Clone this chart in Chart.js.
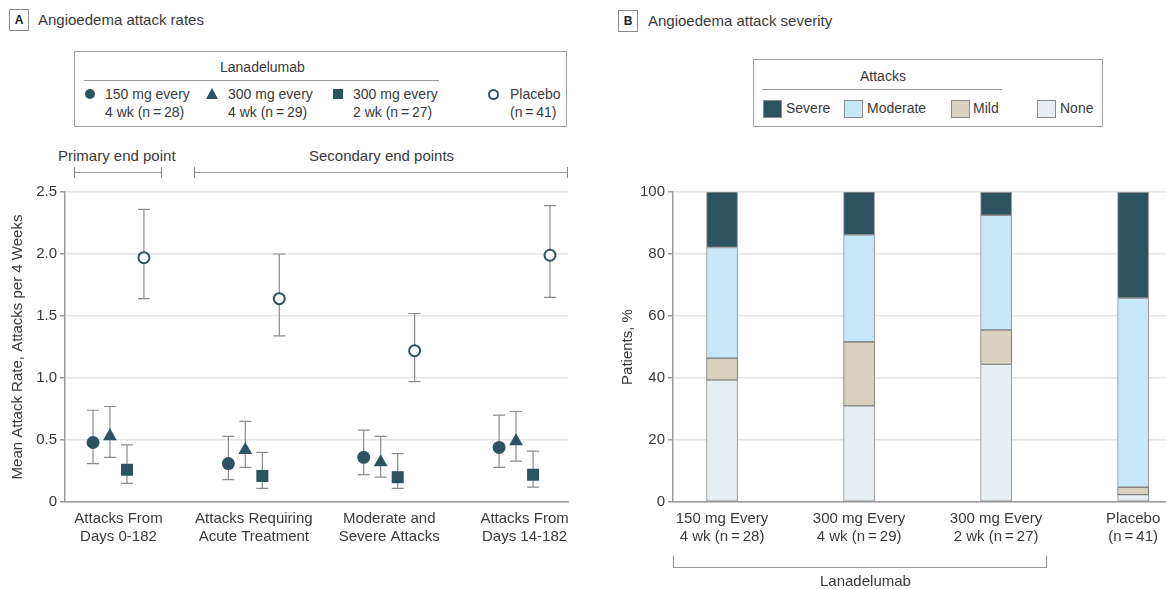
<!DOCTYPE html>
<html>
<head>
<meta charset="utf-8">
<script src="https://cdn.jsdelivr.net/npm/chart.js@4/dist/chart.umd.min.js"></script>
<style>
	body { margin: 0; width: 1166px; height: 589px; background: #fff; position: relative; overflow: hidden;
		font-family: 'Liberation Sans', Arial, sans-serif; color: #3a3a3a; }
	.abs { position: absolute; }
	.panel-box { position: absolute; width: 18px; height: 20px; border: 1px solid #8a8a8a; font-size: 12px; font-weight: bold;
		text-align: center; line-height: 20px; color: #222; }
	.panel-title { position: absolute; font-size: 15px; line-height: 18px; white-space: nowrap; }
	.legend { position: absolute; border: 1px solid #a0a0a0; box-sizing: border-box; }
	.txt { position: absolute; font-size: 14px; line-height: 18px; white-space: nowrap; }
	.hline { position: absolute; height: 0; border-top: 1px solid #9a9a9a; }
	.vline { position: absolute; width: 0; border-left: 1px solid #8a8a8a; }
	.swatch { position: absolute; width: 17px; height: 16px; border: 1px solid #8a8a8a; }
	canvas { position: absolute; }
</style>
</head>
<body>

<div class="panel-box" style="left:9px; top:9px;">A</div>
<div class="panel-title" style="left:38px; top:11px;">Angioedema attack rates</div>
<div class="panel-box" style="left:618px; top:10px;">B</div>
<div class="panel-title" style="left:648px; top:12px;">Angioedema attack severity</div>

<!-- legend A -->
<div class="legend" style="left:74px; top:51px; width:493px; height:76px;"></div>
<div class="txt" style="left:220px; top:58px;">Lanadelumab</div>
<div class="hline" style="left:84px; top:80px; width:355px;"></div>
<div class="abs" style="left:85px; top:89px; width:10px; height:10px; border-radius:50%; background:#2d5360;"></div>
<div class="txt" style="left:105px; top:85px;">150 mg every<br>4 wk (n&#8201;=&#8201;28)</div>
<div class="abs" style="left:206px; top:88px; width:0; height:0; border-left:6px solid transparent; border-right:6px solid transparent; border-bottom:11px solid #2d5360;"></div>
<div class="txt" style="left:228px; top:85px;">300 mg every<br>4 wk (n&#8201;=&#8201;29)</div>
<div class="abs" style="left:333px; top:89px; width:10px; height:10px; background:#2d5360;"></div>
<div class="txt" style="left:353px; top:85px;">300 mg every<br>2 wk (n&#8201;=&#8201;27)</div>
<div class="abs" style="left:488px; top:89px; width:7px; height:7px; border-radius:50%; border:2px solid #2d5360; background:#fff;"></div>
<div class="txt" style="left:510px; top:85px;">Placebo<br>(n&#8201;=&#8201;41)</div>

<!-- end point brackets -->
<div class="txt" style="left:58px; top:147px; font-size:15px;">Primary end point</div>
<div class="txt" style="left:309px; top:147px; font-size:15px;">Secondary end points</div>
<div class="hline" style="left:74px; top:172px; width:88px;"></div>
<div class="vline" style="left:74px; top:167px; height:11px;"></div>
<div class="vline" style="left:161px; top:167px; height:11px;"></div>
<div class="hline" style="left:194px; top:172px; width:374px;"></div>
<div class="vline" style="left:194px; top:167px; height:11px;"></div>
<div class="vline" style="left:567px; top:167px; height:11px;"></div>

<!-- legend B -->
<div class="legend" style="left:753px; top:59px; width:350px; height:68px;"></div>
<div class="txt" style="left:860px; top:67px;">Attacks</div>
<div class="hline" style="left:762px; top:89px; width:240px;"></div>
<div class="swatch" style="left:763px; top:100px; background:#2d5360;"></div>
<div class="txt" style="left:786px; top:99px;">Severe</div>
<div class="swatch" style="left:844px; top:100px; background:#c7e8f9;"></div>
<div class="txt" style="left:867px; top:99px;">Moderate</div>
<div class="swatch" style="left:951px; top:100px; background:#d9d2c3;"></div>
<div class="txt" style="left:973px; top:99px;">Mild</div>
<div class="swatch" style="left:1037px; top:100px; background:#e7eff3;"></div>
<div class="txt" style="left:1060px; top:99px;">None</div>

<canvas id="rates" width="580" height="380" style="left:0; top:180px;"></canvas>
<canvas id="severity" width="566" height="380" style="left:600px; top:180px;"></canvas>

<!-- Lanadelumab bracket under panel B -->
<div class="hline" style="left:673px; top:567px; width:374px;"></div>
<div class="vline" style="left:673px; top:556px; height:11px;"></div>
<div class="vline" style="left:1046px; top:556px; height:11px;"></div>
<div class="txt" style="left:820px; top:572px; font-size:15px;">Lanadelumab</div>

<script>
// panel A data: mean attack rate per 4 weeks with 95% CI
var endPoints = [['Attacks From', 'Days 0-182'], ['Attacks Requiring', 'Acute Treatment'], ['Moderate and', 'Severe Attacks'], ['Attacks From', 'Days 14-182']];
var mean150q4 = [0.48, 0.31, 0.36, 0.44];
var low150q4 = [0.31, 0.18, 0.22, 0.28];
var high150q4 = [0.74, 0.53, 0.58, 0.70];
var mean300q4 = [0.53, 0.42, 0.32, 0.49];
var low300q4 = [0.36, 0.28, 0.20, 0.33];
var high300q4 = [0.77, 0.65, 0.53, 0.73];
var mean300q2 = [0.26, 0.21, 0.20, 0.22];
var low300q2 = [0.15, 0.11, 0.11, 0.12];
var high300q2 = [0.46, 0.40, 0.39, 0.41];
var meanPlacebo = [1.97, 1.64, 1.22, 1.99];
var lowPlacebo = [1.64, 1.34, 0.97, 1.65];
var highPlacebo = [2.36, 2.00, 1.52, 2.39];
var rateTicks = [0, 0.5, 1.0, 1.5, 2.0, 2.5];

// panel B data: % of patients by worst attack severity
var groups = [['150 mg Every', '4 wk (n\u2009=\u200928)'], ['300 mg Every', '4 wk (n\u2009=\u200929)'], ['300 mg Every', '2 wk (n\u2009=\u200927)'], ['Placebo', '(n\u2009=\u200941)']];
var pctNone = [39.3, 31.0, 44.4, 2.4];
var pctMild = [7.1, 20.7, 11.1, 2.4];
var pctModerate = [35.7, 34.5, 37.0, 61.0];
var pctSevere = [17.9, 13.8, 7.4, 34.1];

var teal = '#2d5360';
var gridGrey = '#e4e4e4';
var axisGrey = '#9a9a9a';
var textGrey = '#3a3a3a';
Chart.defaults.font.family = "'Liberation Sans', Arial, sans-serif";
Chart.defaults.font.size = 15;
Chart.defaults.color = textGrey;
Chart.defaults.animation = false;

function punten(values, shift) {
	return values.map((v, i) => ({ x: i + shift, y: v }));
}

var errorBars = {
	id: 'errorBars',
	beforeDatasetsDraw(chart) {
		var ctx = chart.ctx;
		var y = chart.scales.y;
		ctx.save();
		ctx.strokeStyle = '#8c8c8c';
		ctx.lineWidth = 1.2;
		chart.data.datasets.forEach((ds, d) => {
			var meta = chart.getDatasetMeta(d);
			meta.data.forEach((pt, i) => {
				var lo = y.getPixelForValue(ds.low[i]);
				var hi = y.getPixelForValue(ds.high[i]);
				ctx.beginPath();
				ctx.moveTo(pt.x, lo); ctx.lineTo(pt.x, hi);
				ctx.moveTo(pt.x - 6, lo); ctx.lineTo(pt.x + 6, lo);
				ctx.moveTo(pt.x - 6, hi); ctx.lineTo(pt.x + 6, hi);
				ctx.stroke();
			});
		});
		ctx.restore();
	}
};

new Chart(document.getElementById('rates').getContext('2d'), {
	type: 'scatter',
	data: {
		datasets: [
			{ label: '150 mg every 4 wk', data: punten(mean150q4, -0.188), low: low150q4, high: high150q4,
				pointStyle: 'circle', pointRadius: 6.5, backgroundColor: teal, borderColor: teal, borderWidth: 0 },
			{ label: '300 mg every 4 wk', data: punten(mean300q4, -0.063), low: low300q4, high: high300q4,
				pointStyle: 'triangle', pointRadius: 8, backgroundColor: teal, borderColor: teal, borderWidth: 0 },
			{ label: '300 mg every 2 wk', data: punten(mean300q2, 0.063), low: low300q2, high: high300q2,
				pointStyle: 'rect', pointRadius: 8.5, backgroundColor: teal, borderColor: teal, borderWidth: 0 },
			{ label: 'Placebo', data: punten(meanPlacebo, 0.188), low: lowPlacebo, high: highPlacebo,
				pointStyle: 'circle', pointRadius: 5.5, backgroundColor: '#fff', borderColor: teal, borderWidth: 2 }
		]
	},
	options: {
		responsive: false,
		layout: { padding: { top: 10, right: 12, left: 0, bottom: 0 } },
		plugins: { legend: { display: false }, tooltip: { enabled: false } },
		scales: {
			x: {
				type: 'linear', min: -0.395, max: 3.321,
				afterBuildTicks: (s) => { s.ticks = endPoints.map((e, i) => ({ value: i })); },
				afterFit: (s) => { s.height = 58; },
				ticks: { callback: (v) => endPoints[v], padding: 0, maxRotation: 0, autoSkip: false, font: { size: 15, lineHeight: 1.2 } },
				grid: { display: false },
				border: { display: true, color: axisGrey, width: 1.5 }
			},
			y: {
				min: 0, max: 2.5,
				afterBuildTicks: (s) => { s.ticks = rateTicks.map(v => ({ value: v })); },
				afterFit: (s) => { s.width = 65; },
				ticks: { callback: (v) => v == 0 ? '0' : v.toFixed(1), padding: 3 },
				grid: { color: gridGrey, lineWidth: 1.5, tickLength: 5, tickColor: axisGrey },
				border: { color: axisGrey, width: 1.5 },
				title: { display: true, text: 'Mean Attack Rate, Attacks per 4 Weeks', font: { size: 15 }, padding: { top: 9, bottom: 0 } }
			}
		}
	},
	plugins: [errorBars]
});

function staaf(values) {
	return values.map((v, i) => ({ x: i, y: v }));
}

new Chart(document.getElementById('severity').getContext('2d'), {
	type: 'bar',
	data: {
		datasets: [
			{ label: 'None', data: staaf(pctNone), backgroundColor: '#e7eff3', borderColor: '#8f8f8f' },
			{ label: 'Mild', data: staaf(pctMild), backgroundColor: '#d9d2c3', borderColor: '#6f6f6f' },
			{ label: 'Moderate', data: staaf(pctModerate), backgroundColor: '#c7e8f9', borderColor: '#8f8f8f' },
			{ label: 'Severe', data: staaf(pctSevere), backgroundColor: teal, borderColor: '#8f8f8f' }
		]
	},
	options: {
		responsive: false,
		layout: { padding: { top: 11, right: 0, left: 0, bottom: 0 } },
		datasets: { bar: { barThickness: 31, borderWidth: 1, borderSkipped: false } },
		plugins: { legend: { display: false }, tooltip: { enabled: false } },
		scales: {
			x: {
				type: 'linear', stacked: true, min: -0.358, max: 3.24, offset: false,
				afterBuildTicks: (s) => { s.ticks = groups.map((g, i) => ({ value: i })); },
				afterFit: (s) => { s.height = 58; },
				ticks: { callback: (v) => groups[v], padding: 0, maxRotation: 0, autoSkip: false, font: { size: 15, lineHeight: 1.2 } },
				grid: { display: false },
				border: { display: true, color: axisGrey, width: 1.5 }
			},
			y: {
				stacked: true, min: 0, max: 100,
				ticks: { stepSize: 20, padding: 3 },
				afterFit: (s) => { s.width = 73; },
				grid: { color: gridGrey, lineWidth: 1.5, tickLength: 5, tickColor: axisGrey },
				border: { color: axisGrey, width: 1.5 },
				title: { display: true, text: 'Patients, %', font: { size: 15 }, padding: { top: 19, bottom: 0 } }
			}
		}
	}
});
</script>
</body>
</html>
